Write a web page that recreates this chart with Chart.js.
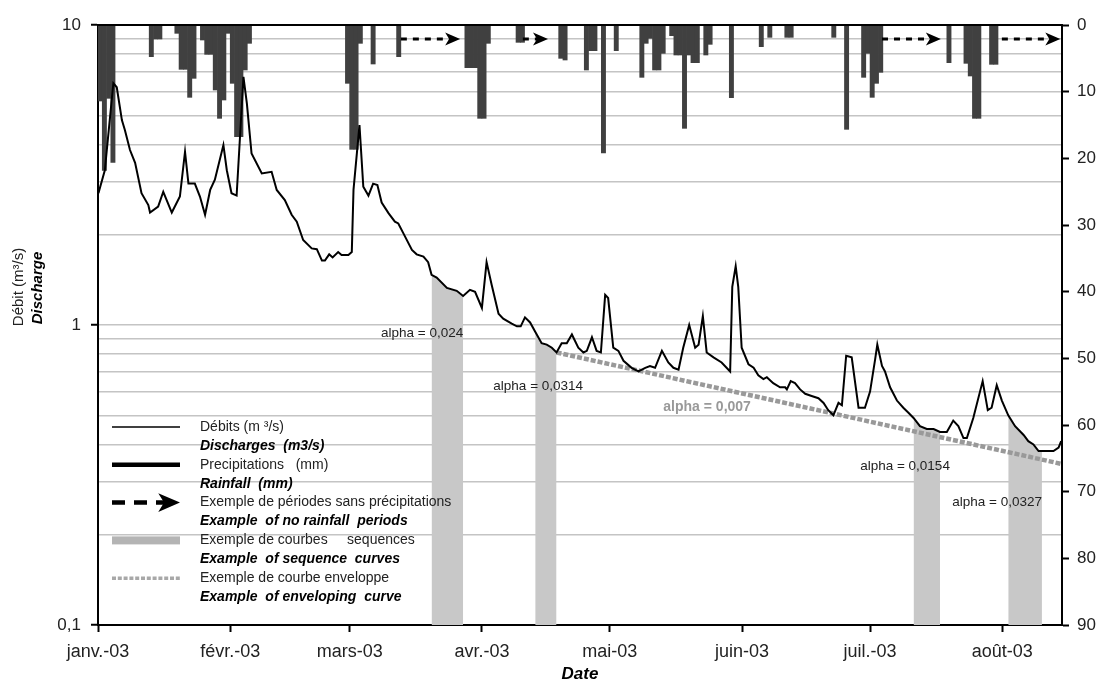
<!DOCTYPE html>
<html lang="fr">
<head>
<meta charset="utf-8">
<title>Débits et précipitations 2003</title>
<script src="https://cdn.jsdelivr.net/npm/chart.js@4.4.1/dist/chart.umd.min.js"></script>
<style>
  html, body { margin: 0; padding: 0; background: #fff; }
  #wrap { position: relative; width: 1104px; height: 689px; }
</style>
</head>
<body>
<div id="wrap"><canvas id="chart"></canvas></div>
<script>
// ─── axes ────────────────────────────────────────────────────────────────────
const monthStarts = [0, 31, 59, 90, 120, 151, 181, 212];
const monthLabels = ['janv.-03', 'févr.-03', 'mars-03', 'avr.-03', 'mai-03', 'juin-03', 'juil.-03', 'août-03'];
const lastDay = 226;

const dischargeTicks = [
  0.1, 0.2, 0.3, 0.4, 0.5, 0.6, 0.7, 0.8, 0.9,
  1, 2, 3, 4, 5, 6, 7, 8, 9, 10,
];
const dischargeMajor = [0.1, 1, 10];
const dischargeMajorLabels = ['0,1', '1', '10'];

// ─── débits (jour depuis le 1er janvier, m3/s) ───────────────────────────────
const dischargeDays = [
  0.1, 1.6, 3.6, 4.4, 5.6, 6.3, 7.5, 8.7, 10.2, 11.8,
  12.2, 14.1, 15.3, 17.3, 19.2, 20.4, 21.2, 22.7, 23.9, 25.1,
  26.3, 27.4, 29.4, 30.2, 31.3, 32.5, 34.1, 34.9, 36.0, 38.4,
  40.7, 41.9, 43.8, 45.4, 46.6, 48.1, 50.1, 51.3, 52.5, 53.2,
  54.2, 55.0, 56.3, 57.1, 58.7, 59.5, 59.9, 61.3, 62.2, 63.4,
  64.5, 65.5, 66.5, 68.1, 69.6, 70.4, 71.6, 73.6, 74.7, 76.3,
  77.4, 78.2, 79.4, 81.8, 84.1, 85.6, 87.2, 88.4, 90.0, 91.1,
  92.3, 93.9, 95.0, 97.0, 98.2, 99.1, 100.1, 101.3, 102.5, 104.0,
  105.2, 106.4, 107.5, 108.7, 109.9, 111.1, 112.6, 113.8, 114.6, 115.8,
  116.9, 117.9, 118.9, 119.6, 120.8, 122.0, 123.2, 125.1, 126.7, 128.3,
  129.4, 130.6, 132.2, 133.7, 134.9, 136.1, 137.2, 138.6, 140.0, 140.8,
  141.8, 142.7, 144.3, 146.2, 148.2, 148.7, 149.5, 150.1, 150.9, 152.5,
  153.7, 154.8, 156.0, 156.8, 158.3, 159.9, 161.1, 161.5, 162.4, 163.4,
  164.6, 165.8, 167.3, 168.9, 170.1, 171.2, 172.4, 173.6, 174.4, 175.4,
  176.7, 178.3, 179.8, 181.0, 182.2, 182.7, 183.8, 184.5, 185.7, 187.3,
  188.8, 190.0, 191.2, 192.7, 194.3, 195.9, 197.4, 199.0, 200.5, 201.7,
  202.9, 203.7, 205.2, 207.4, 208.6, 209.5, 210.7, 211.9, 213.4, 215.0,
  217.0, 218.1, 219.3, 220.5, 221.3, 222.4, 224.0, 225.2, 225.8,
];
const dischargeValues = [
  2.75, 3.28, 6.4, 6.2, 4.82, 4.47, 3.83, 3.47, 2.75, 2.51,
  2.37, 2.48, 2.78, 2.37, 2.68, 3.78, 2.96, 2.96, 2.68, 2.33,
  2.82, 3.05, 3.98, 3.28, 2.75, 2.7, 6.72, 5.48, 3.73, 3.2,
  3.24, 2.82, 2.61, 2.33, 2.21, 1.92, 1.8, 1.79, 1.64, 1.64,
  1.72, 1.68, 1.75, 1.71, 1.71, 1.75, 2.82, 4.64, 2.89, 2.7,
  2.96, 2.93, 2.56, 2.36, 2.21, 2.18, 2.02, 1.78, 1.72, 1.69,
  1.62, 1.47, 1.44, 1.33, 1.30, 1.25, 1.31, 1.29, 1.14, 1.62,
  1.36, 1.09, 1.05, 1.01, 0.99, 0.99, 1.06, 1.02, 0.95, 0.87,
  0.86, 0.84, 0.81, 0.87, 0.87, 0.93, 0.84, 0.81, 0.82, 0.91,
  0.82, 0.81, 1.26, 1.23, 0.84, 0.82, 0.76, 0.72, 0.70, 0.72,
  0.73, 0.72, 0.82, 0.75, 0.72, 0.71, 0.84, 1.0, 0.84, 0.86,
  1.07, 0.81, 0.78, 0.75, 0.70, 1.34, 1.57, 1.34, 0.84, 0.74,
  0.72, 0.68, 0.66, 0.67, 0.64, 0.62, 0.62, 0.61, 0.65, 0.64,
  0.61, 0.59, 0.58, 0.57, 0.55, 0.52, 0.50, 0.55, 0.54, 0.79,
  0.78, 0.53, 0.53, 0.60, 0.77, 0.86, 0.73, 0.70, 0.62, 0.56,
  0.53, 0.51, 0.49, 0.46, 0.45, 0.45, 0.44, 0.44, 0.48, 0.46,
  0.42, 0.42, 0.49, 0.65, 0.52, 0.53, 0.63, 0.56, 0.50, 0.46,
  0.43, 0.41, 0.40, 0.38, 0.38, 0.38, 0.38, 0.39, 0.41,
];

// ─── précipitations journalières (mm) ────────────────────────────────────────
const rainDays = [
  0, 1, 2, 3, 12, 13, 14, 18, 19, 20, 21, 22, 24, 25, 26, 27, 28, 29, 30, 31,
  32, 33, 34, 35, 58, 59, 60, 61, 64, 70, 86, 87, 88, 89, 90, 91, 98, 99,
  108, 109, 114, 115, 116, 118, 121, 127, 128, 129, 130, 131, 132, 134, 135, 136,
  137, 138, 139, 140, 142, 143, 148, 155, 157, 161, 162, 172, 175, 179, 180, 181,
  182, 183, 199, 203, 204, 205, 206, 209, 210,
];
const rainValues = [
  11.4, 21.8, 11, 20.6, 4.75, 2.1, 2.1, 1.25, 6.65, 6.65, 10.85, 8, 2.25, 4.4, 4.4, 9.75, 14, 11.25, 1.25, 8.75,
  16.75, 16.75, 6.75, 2.75, 8.75, 18.65, 18.65, 2.75, 5.85, 4.75, 6.4, 6.4, 6.4, 14, 14, 2.75, 2.6, 2.6,
  5, 5.25, 6.75, 3.85, 3.85, 19.2, 3.85, 7.85, 2.75, 2, 6.75, 6.75, 4.25, 1.6, 4.5, 4.5,
  15.5, 4.5, 5.65, 5.65, 4.5, 2.9, 10.9, 3.25, 1.85, 1.85, 1.85, 1.85, 15.65, 7.85, 4.25, 10.85,
  8.75, 7.1, 5.65, 5.75, 7.65, 14, 14, 5.9, 5.9,
];

// ─── périodes sans pluie, séquences, enveloppe ───────────────────────────────
const noRainStart = [71.0, 99.6, 183.8, 211.9];
const noRainEnd = [84.9, 105.5, 197.6, 225.6];
const noRainLevel = 2.1;

const seqStart = [78.0, 102.5, 191.2, 213.4];
const seqEnd = [85.6, 107.5, 198.2, 221.3];

const envDays = [107.5, 226];
const envValues = [0.81, 0.344];

const alphaTexts = ['alpha = 0,024', 'alpha = 0,0314', 'alpha = 0,007', 'alpha = 0,0154', 'alpha = 0,0327'];
const alphaDays = [76.0, 103.2, 142.8, 189.2, 210.8];
const alphaValues = [0.94, 0.623, 0.533, 0.339, 0.256];

// ─── styles ──────────────────────────────────────────────────────────────────
const FONT = "'Liberation Sans', Arial, sans-serif";
const SEQ_GRAY = '#c8c8c8';
const ENV_GRAY = '#999999';
const BAR_GRAY = '#404040';

const dischargePoints = dischargeDays.map((d, i) => ({ x: d, y: dischargeValues[i] }));

function drawArrowHead(ctx, px, py, s) {
  ctx.beginPath();
  ctx.moveTo(px, py);
  ctx.lineTo(px - 15 * s, py - 6.5 * s);
  ctx.lineTo(px - 11 * s, py);
  ctx.lineTo(px - 15 * s, py + 6.5 * s);
  ctx.closePath();
  ctx.fill();
}

const legendRows = [
  { sym: 'thin', fr: 'Débits (m ³/s)', en: 'Discharges  (m3/s)' },
  { sym: 'thick', fr: 'Precipitations   (mm)', en: 'Rainfall  (mm)' },
  { sym: 'arrow', fr: 'Exemple de périodes sans précipitations', en: 'Example  of no rainfall  periods' },
  { sym: 'seq', fr: 'Exemple de courbes     sequences', en: 'Example  of sequence  curves' },
  { sym: 'env', fr: 'Exemple de courbe enveloppe', en: 'Example  of enveloping  curve' },
];

// ─── décor : flèches, libellés alpha, légende, titre Y ───────────────────────
const decorPlugin = {
  id: 'decor',
  afterDatasetsDraw(chart) {
    const { ctx, chartArea: ca, scales } = chart;
    ctx.save();

    // pointes de flèches
    ctx.fillStyle = '#000';
    noRainEnd.forEach((d) => {
      drawArrowHead(ctx, scales.x.getPixelForValue(d), scales.y2.getPixelForValue(noRainLevel), 1);
    });

    // libellés alpha
    ctx.textAlign = 'center';
    ctx.textBaseline = 'middle';
    alphaTexts.forEach((t, i) => {
      const px = scales.x.getPixelForValue(alphaDays[i]);
      const py = scales.y.getPixelForValue(alphaValues[i]);
      if (i === 2) {
        ctx.font = `bold 14px ${FONT}`;
        ctx.fillStyle = ENV_GRAY;
      } else {
        ctx.font = `13.5px ${FONT}`;
        ctx.fillStyle = '#222';
      }
      ctx.fillText(t, px, py);
    });

    // cadre haut
    ctx.strokeStyle = '#000';
    ctx.lineWidth = 2;
    ctx.beginPath();
    ctx.moveTo(ca.left, ca.top);
    ctx.lineTo(ca.right, ca.top);
    ctx.stroke();

    // légende
    const x0 = ca.left + 14;
    const x1 = ca.left + 82;
    const tx = ca.left + 102;
    const rowGap = 18.9;
    let ly = ca.top + 402;
    ctx.textAlign = 'left';
    legendRows.forEach((row) => {
      ctx.save();
      if (row.sym === 'thin' || row.sym === 'thick') {
        ctx.strokeStyle = '#000';
        ctx.lineWidth = row.sym === 'thin' ? 1.5 : 4.5;
        ctx.beginPath(); ctx.moveTo(x0, ly); ctx.lineTo(x1, ly); ctx.stroke();
      } else if (row.sym === 'arrow') {
        ctx.strokeStyle = '#000';
        ctx.lineWidth = 4.5;
        ctx.setLineDash([13, 9]);
        ctx.beginPath(); ctx.moveTo(x0, ly); ctx.lineTo(x1 - 16, ly); ctx.stroke();
        ctx.fillStyle = '#000';
        drawArrowHead(ctx, x1, ly, 1.45);
      } else if (row.sym === 'seq') {
        ctx.fillStyle = '#b4b4b4';
        ctx.fillRect(x0, ly - 4, x1 - x0, 8);
      } else {
        ctx.strokeStyle = '#a8a8a8';
        ctx.lineWidth = 3.5;
        ctx.setLineDash([4, 1.8]);
        ctx.beginPath(); ctx.moveTo(x0, ly); ctx.lineTo(x1, ly); ctx.stroke();
      }
      ctx.restore();
      ctx.font = `14px ${FONT}`;
      ctx.fillStyle = '#222';
      ctx.fillText(row.fr, tx, ly);
      ctx.font = `italic bold 14px ${FONT}`;
      ctx.fillStyle = '#000';
      ctx.fillText(row.en, tx, ly + rowGap);
      ly += rowGap * 2;
    });

    // titre de l'axe Y
    ctx.textAlign = 'center';
    ctx.save();
    ctx.translate(19, ca.top + 262);
    ctx.rotate(-Math.PI / 2);
    ctx.font = `15px ${FONT}`;
    ctx.fillStyle = '#222';
    ctx.fillText('Débit (m³/s)', 0, 0);
    ctx.restore();
    ctx.save();
    ctx.translate(37.5, ca.top + 263);
    ctx.rotate(-Math.PI / 2);
    ctx.font = `italic bold 15px ${FONT}`;
    ctx.fillStyle = '#000';
    ctx.fillText('Discharge', 0, 0);
    ctx.restore();

    ctx.restore();
  },
};

// ─── jeux de données ─────────────────────────────────────────────────────────
const datasets = [];

seqStart.forEach((s, i) => {
  datasets.push({
    type: 'line',
    data: dischargePoints.filter((p) => p.x >= s && p.x <= seqEnd[i]),
    yAxisID: 'y',
    borderWidth: 0,
    pointRadius: 0,
    backgroundColor: SEQ_GRAY,
    fill: 'start',
    order: 10,
  });
});

datasets.push({
  type: 'bar',
  data: rainDays.map((d, i) => ({ x: d + 0.5, y: rainValues[i] })),
  yAxisID: 'y2',
  backgroundColor: BAR_GRAY,
  borderWidth: 0,
  barPercentage: 1,
  categoryPercentage: 1,
  order: 6,
});

datasets.push({
  type: 'line',
  data: envDays.map((d, i) => ({ x: d, y: envValues[i] })),
  yAxisID: 'y',
  borderColor: ENV_GRAY,
  borderWidth: 4.5,
  borderDash: [5, 2],
  pointRadius: 0,
  fill: false,
  order: 5,
});

datasets.push({
  type: 'line',
  data: dischargePoints,
  yAxisID: 'y',
  borderColor: '#000',
  borderWidth: 2,
  pointRadius: 0,
  tension: 0,
  fill: false,
  order: 2,
});

noRainStart.forEach((s, i) => {
  datasets.push({
    type: 'line',
    data: [{ x: s, y: noRainLevel }, { x: noRainEnd[i] - 0.5, y: noRainLevel }],
    yAxisID: 'y2',
    borderColor: '#000',
    borderWidth: 3.2,
    borderDash: [6, 6],
    pointRadius: 0,
    fill: false,
    order: 1,
  });
});

// ─── graphique ───────────────────────────────────────────────────────────────
new Chart(document.getElementById('chart'), {
  type: 'line',
  data: { datasets },
  plugins: [decorPlugin],
  options: {
    responsive: true,
    maintainAspectRatio: false,
    animation: false,
    events: [],
    layout: { padding: { top: 25, left: 0, right: 0, bottom: 0 } },
    plugins: {
      legend: { display: false },
      tooltip: { enabled: false },
    },
    scales: {
      x: {
        type: 'linear',
        min: 0,
        max: lastDay,
        offset: false,
        afterBuildTicks: (scale) => { scale.ticks = monthStarts.map((v) => ({ value: v })); },
        afterFit: (scale) => { scale.height = 64; },
        ticks: {
          autoSkip: false,
          maxRotation: 0,
          padding: 9,
          color: '#222',
          font: { family: FONT, size: 18 },
          callback: (v, i) => monthLabels[i],
        },
        grid: { offset: false, drawOnChartArea: false, tickLength: 7, tickColor: '#000', tickWidth: 2 },
        border: { color: '#000', width: 2 },
        title: {
          display: true,
          text: 'Date',
          color: '#000',
          font: { family: FONT, size: 17, weight: 'bold', style: 'italic' },
          padding: { top: 0, bottom: 4 },
        },
      },
      y: {
        type: 'logarithmic',
        position: 'left',
        min: 0.1,
        max: 10,
        afterBuildTicks: (scale) => { scale.ticks = dischargeTicks.map((v) => ({ value: v })); },
        afterFit: (scale) => { scale.width = 98; },
        ticks: {
          autoSkip: false,
          padding: 10,
          color: '#222',
          font: { family: FONT, size: 17 },
          callback: (v) => {
            const k = dischargeMajor.findIndex((m) => Math.abs(m - v) < 1e-9);
            return k >= 0 ? dischargeMajorLabels[k] : '';
          },
        },
        grid: {
          color: '#c4c4c4',
          lineWidth: 1.5,
          tickLength: 7,
          tickWidth: 2,
          tickColor: (c) => (c.tick && c.tick.label ? '#000' : 'rgba(0,0,0,0)'),
        },
        border: { color: '#000', width: 2 },
      },
      y2: {
        type: 'linear',
        position: 'right',
        min: 0,
        max: 90,
        reverse: true,
        afterFit: (scale) => { scale.width = 42; },
        ticks: {
          stepSize: 10,
          padding: 8,
          color: '#222',
          font: { family: FONT, size: 17 },
        },
        grid: { drawOnChartArea: false, tickLength: 7, tickColor: '#000', tickWidth: 2 },
        border: { color: '#000', width: 2 },
      },
    },
  },
});
</script>
</body>
</html>
